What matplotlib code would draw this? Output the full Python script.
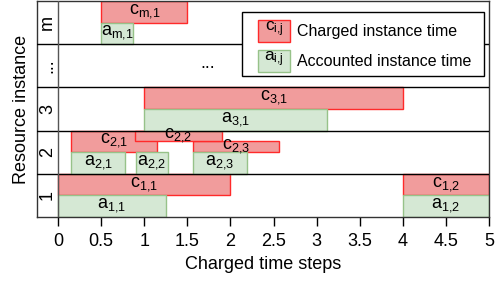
import matplotlib
matplotlib.use("Agg")
import matplotlib.pyplot as plt
from matplotlib.patches import Rectangle

plt.rcParams['font.family'] = ['Liberation Sans', 'DejaVu Sans']
plt.rcParams['mathtext.fontset'] = 'custom'
plt.rcParams['mathtext.rm'] = 'Liberation Sans'
plt.rcParams['mathtext.it'] = 'Liberation Sans'
plt.rcParams['mathtext.bf'] = 'Liberation Sans'

# rows from bottom to top
row_labels = ['1', '2', '3', '...', 'm']

# charged instance time bars (row index, start, end, label, lane)
c_row = [0, 0, 1, 1, 1, 2, 4]
c_start = [0.0, 4.0, 0.15, 1.57, 0.89, 1.0, 0.5]
c_end = [2.0, 5.0, 1.15, 2.56, 1.90, 4.0, 1.5]
c_label = ['1,1', '1,2', '2,1', '2,3', '2,2', '3,1', 'm,1']
c_lane = ['half', 'half', 'half', 'low', 'high', 'half', 'half']

# accounted instance time bars
a_row = [0, 0, 1, 1, 1, 2, 4]
a_start = [0.0, 4.0, 0.15, 0.9, 1.56, 1.0, 0.5]
a_end = [1.25, 5.0, 0.78, 1.28, 2.19, 3.12, 0.87]
a_label = ['1,1', '1,2', '2,1', '2,2', '2,3', '3,1', 'm,1']

xticks = [0, 0.5, 1, 1.5, 2, 2.5, 3, 3.5, 4, 4.5, 5]

red_fill = '#f19c9c'
red_edge = '#ff2a2a'
green_fill = '#d5e8d4'
green_edge = '#97c289'
fs = 13      # axis text
bfs = 13     # bar labels
lfs = 11.5   # legend text


def sublabel(sym, sub):
    # letter with subscript, no extra space after the comma
    return sym + r'$_{\mathregular{' + sub.replace(',', '{,}') + '}}$'


fig = plt.figure(figsize=(4.98, 2.81), dpi=100)
ax = fig.add_axes([37/498, 1 - 217/281, 452/498, 216/281])
ax.set_xlim(-0.245, 5)
ax.set_ylim(0, len(row_labels))

lanes = {'half': (0.5, 1.0), 'high': (0.75, 1.0), 'low': (0.5, 0.75)}
for r, s, e, lab, ln in zip(c_row, c_start, c_end, c_label, c_lane):
    y0, y1 = lanes[ln]
    ax.add_patch(Rectangle((s, r + y0), e - s, y1 - y0, facecolor=red_fill,
                           edgecolor=red_edge, lw=1, zorder=2))
    ax.text((s + e) / 2, r + (y0 + y1) / 2 + 0.02, sublabel('c', lab), ha='center',
            va='center', fontsize=bfs, zorder=5)

for r, s, e, lab in zip(a_row, a_start, a_end, a_label):
    ax.add_patch(Rectangle((s, r), e - s, 0.5, facecolor=green_fill,
                           edgecolor=green_edge, lw=1, zorder=2))
    ax.text((s + e) / 2, r + 0.25 + 0.02, sublabel('a', lab), ha='center',
            va='center', fontsize=bfs, zorder=5)

# row separators and label column
for i in range(1, len(row_labels)):
    ax.axhline(i, color='black', lw=1, zorder=3)
ax.axvline(0, color='#555555', lw=1, zorder=3)
for i, lab in enumerate(row_labels):
    ax.text(-0.1225, i + 0.5, lab, rotation=90, ha='center', va='center', fontsize=fs)

ax.text(1.73, 3.55, '...', ha='center', va='center', fontsize=fs)

# legend drawn by hand
tr = ax.transAxes
ax.add_patch(Rectangle((0.4535, 0.653), 0.5355, 0.296, transform=tr, facecolor='white',
                       edgecolor='black', lw=1, zorder=6))
legend_items = [('c', 'Charged instance time', red_fill, red_edge, 0.81),
                ('a', 'Accounted instance time', green_fill, green_edge, 0.671)]
for sym, txt, fc, ec, yb in legend_items:
    ax.add_patch(Rectangle((0.4889, yb), 0.0708, 0.1, transform=tr, facecolor=fc,
                           edgecolor=ec, lw=1, zorder=7))
    ax.text(0.5243, yb + 0.06, sublabel(sym, 'i,j'), transform=tr, ha='center', va='center',
            fontsize=12.5, zorder=8)
    ax.text(0.575, yb + 0.05, txt, transform=tr, ha='left', va='center', fontsize=lfs, zorder=8)

ax.set_xticks(xticks)
ax.set_xticklabels([f'{t:g}' for t in xticks])
ax.set_yticks([])
ax.tick_params(axis='x', length=6.5, width=1, pad=5, labelsize=fs)
ax.set_xlabel('Charged time steps', fontsize=fs, labelpad=4)
ax.set_ylabel('Resource instance', fontsize=fs, labelpad=5)
for sp in ax.spines.values():
    sp.set_linewidth(1)
    sp.set_color('#333333')

fig.savefig('out.png', dpi=100)
